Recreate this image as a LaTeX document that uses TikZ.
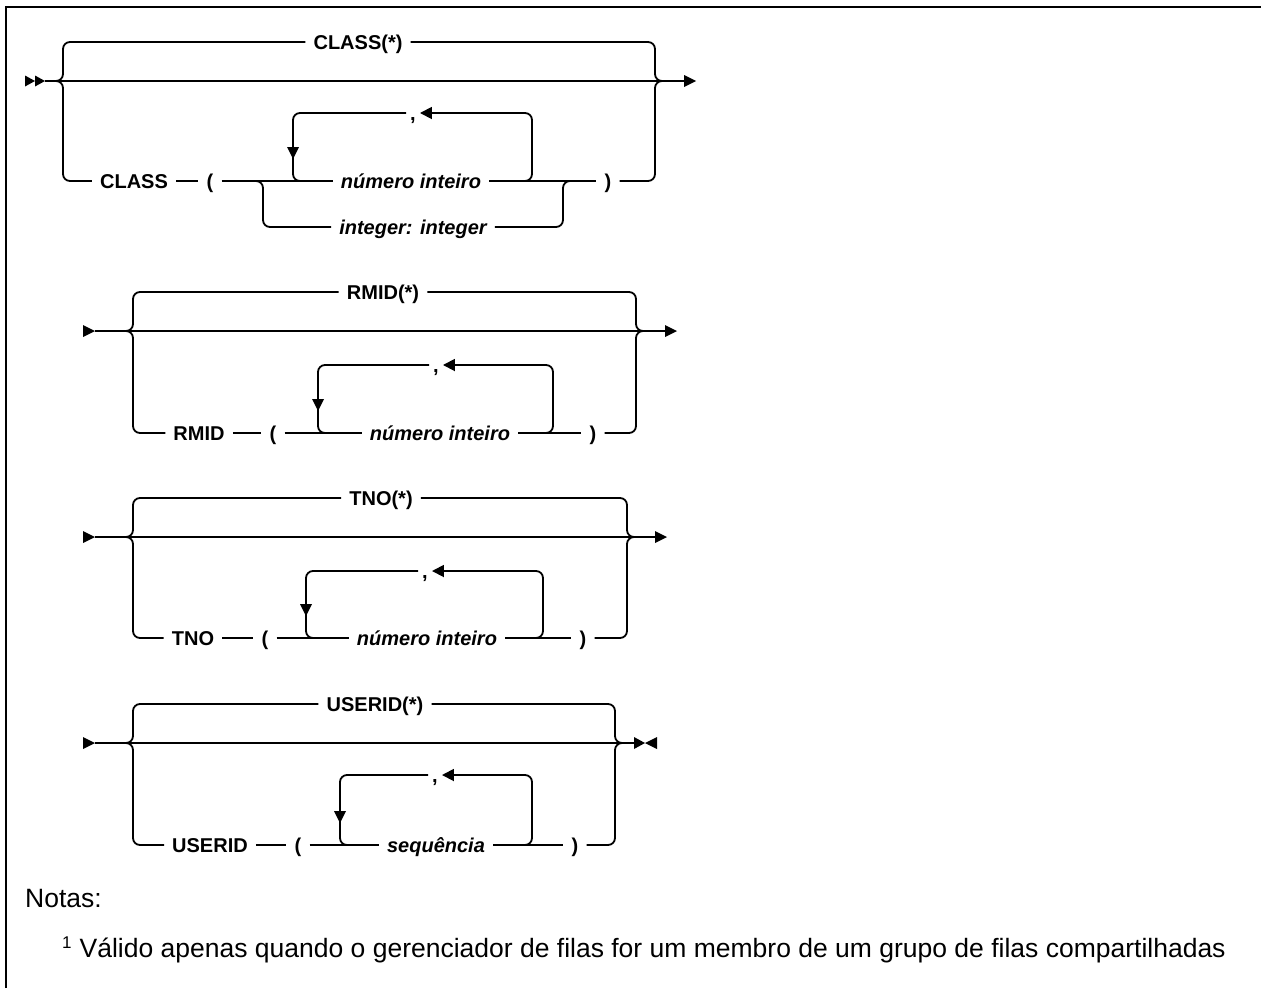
\documentclass[tikz,border=0pt]{standalone}
\usepackage{fontspec}
\setmainfont{Liberation Sans}
\usetikzlibrary{arrows.meta}
\begin{document}
\begin{tikzpicture}[x=1pt,y=-1pt,
  ln/.style={line width=1.8pt, rounded corners=7pt},
  kw/.style={font=\fontsize{20}{24}\selectfont\bfseries, inner xsep=8pt, inner ysep=0pt, text height=14pt, text depth=0pt},
  var/.style={kw, font=\fontsize{20}{24}\selectfont\bfseries\itshape},
  commanode/.style={kw, inner xsep=4pt},
  larr/.style={-{Triangle[length=12pt,width=12pt]}},
  note/.style={font=\fontsize{26.5}{30}\selectfont, inner sep=0pt, anchor=base west}]
\useasboundingbox (0,0) rectangle (1261,988);
\draw[line width=2.2pt] (6,988) -- (6,7) -- (1261,7);

% ---------------- Diagram 1: CLASS ----------------
\fill (25,75.5) -- (35,81) -- (25,86.5) -- cycle;
\fill (35,75.5) -- (45,81) -- (35,86.5) -- cycle;
\coordinate (a1s) at (45,81);
\coordinate (a1e) at (684,81);
\draw[ln] (a1s) -- (a1e);
\fill (684,75) -- (696,81) -- (684,87) -- cycle;
\coordinate (a1l) at (56,81);
\coordinate (a1r) at (662,81);
\node[kw] (c1t) at (358,42) {CLASS(*)};
\draw[ln] (a1l) -- (63,81) |- (c1t.west);
\draw[ln] (c1t.east) -| (655,81) -- (a1r);
\node[kw] (c1k) at (134,181) {CLASS};
\node[kw] (c1lp) at (210,181) {(};
\node[var] (c1v) at (411,181) {número inteiro};
\node[var] (c1a) at (413,227) {integer: integer};
\node[kw] (c1rp) at (608,181) {)};
\node[commanode] (c1c) at (413,113) {,};
\draw[ln] (a1l) -- (63,81) |- (c1k.west);
\draw[ln] (c1k.east) -- (c1lp.west);
\draw[ln] (c1lp.east) -- (c1v.west);
\draw[ln] (c1v.east) -- (c1rp.west);
\draw[ln] (c1rp.east) -| (655,81) -- (a1r);
\draw[ln] (255,181) -- (263,181) |- (c1a.west);
\draw[ln] (c1a.east) -| (563,181) -- (571,181);
\draw[ln] (c1c.west) -| (293,181) -- (300,181);
\fill (287,147) -- (299,147) -- (293,159) -- cycle;
\draw[ln,larr] (524,181) -- (532,181) |- (c1c.east);

% ---------------- Diagram 2: RMID ----------------
\fill (83,325) -- (95,331) -- (83,337) -- cycle;
\coordinate (a2s) at (95,331);
\coordinate (a2e) at (665,331);
\draw[ln] (a2s) -- (a2e);
\fill (665,325) -- (677,331) -- (665,337) -- cycle;
\coordinate (a2l) at (126,331);
\coordinate (a2r) at (643,331);
\node[kw] (c2t) at (383,292) {RMID(*)};
\draw[ln] (a2l) -- (133,331) |- (c2t.west);
\draw[ln] (c2t.east) -| (636,331) -- (a2r);
\node[kw] (c2k) at (199,433) {RMID};
\node[kw] (c2lp) at (273,433) {(};
\node[var] (c2v) at (440,433) {número inteiro};
\node[kw] (c2rp) at (593,433) {)};
\node[commanode] (c2c) at (436,365) {,};
\draw[ln] (a2l) -- (133,331) |- (c2k.west);
\draw[ln] (c2k.east) -- (c2lp.west);
\draw[ln] (c2lp.east) -- (c2v.west);
\draw[ln] (c2v.east) -- (c2rp.west);
\draw[ln] (c2rp.east) -| (636,331) -- (a2r);
\draw[ln] (c2c.west) -| (318,433) -- (325,433);
\fill (312,399) -- (324,399) -- (318,411) -- cycle;
\draw[ln,larr] (545,433) -- (553,433) |- (c2c.east);

% ---------------- Diagram 3: TNO ----------------
\fill (83,531) -- (95,537) -- (83,543) -- cycle;
\coordinate (a3s) at (95,537);
\coordinate (a3e) at (655,537);
\draw[ln] (a3s) -- (a3e);
\fill (655,531) -- (667,537) -- (655,543) -- cycle;
\coordinate (a3l) at (126,537);
\coordinate (a3r) at (634,537);
\node[kw] (c3t) at (381,498) {TNO(*)};
\draw[ln] (a3l) -- (133,537) |- (c3t.west);
\draw[ln] (c3t.east) -| (627,537) -- (a3r);
\node[kw] (c3k) at (193,638) {TNO};
\node[kw] (c3lp) at (265,638) {(};
\node[var] (c3v) at (427,638) {número inteiro};
\node[kw] (c3rp) at (583,638) {)};
\node[commanode] (c3c) at (425,571) {,};
\draw[ln] (a3l) -- (133,537) |- (c3k.west);
\draw[ln] (c3k.east) -- (c3lp.west);
\draw[ln] (c3lp.east) -- (c3v.west);
\draw[ln] (c3v.east) -- (c3rp.west);
\draw[ln] (c3rp.east) -| (627,537) -- (a3r);
\draw[ln] (c3c.west) -| (306,638) -- (313,638);
\fill (300,604) -- (312,604) -- (306,616) -- cycle;
\draw[ln,larr] (535,638) -- (543,638) |- (c3c.east);

% ---------------- Diagram 4: USERID ----------------
\fill (83,737) -- (95,743) -- (83,749) -- cycle;
\coordinate (a4s) at (95,743);
\coordinate (a4e) at (634,743);
\draw[ln] (a4s) -- (a4e);
\fill (634,737) -- (645,743) -- (634,749) -- cycle;
\fill (657,737) -- (645,743) -- (657,749) -- cycle;
\coordinate (a4l) at (126,743);
\coordinate (a4r) at (622,743);
\node[kw] (c4t) at (375,704) {USERID(*)};
\draw[ln] (a4l) -- (133,743) |- (c4t.west);
\draw[ln] (c4t.east) -| (615,743) -- (a4r);
\node[kw] (c4k) at (210,845) {USERID};
\node[kw] (c4lp) at (298,845) {(};
\node[var] (c4v) at (436,845) {sequência};
\node[kw] (c4rp) at (575,845) {)};
\node[commanode] (c4c) at (435,775) {,};
\draw[ln] (a4l) -- (133,743) |- (c4k.west);
\draw[ln] (c4k.east) -- (c4lp.west);
\draw[ln] (c4lp.east) -- (c4v.west);
\draw[ln] (c4v.east) -- (c4rp.west);
\draw[ln] (c4rp.east) -| (615,743) -- (a4r);
\draw[ln] (c4c.west) -| (340,845) -- (347,845);
\fill (334,811) -- (346,811) -- (340,823) -- cycle;
\draw[ln,larr] (524,845) -- (532,845) |- (c4c.east);

% ---------------- Notes ----------------
\node[note] (notas) at (25,907) {Notas:};
\node[note] (fn) at (62,957) {\raisebox{9pt}{\fontsize{17}{20}\selectfont 1}\hspace{8pt}Válido apenas quando o gerenciador de filas for um membro de um grupo de filas compartilhadas};
\end{tikzpicture}
\end{document}
